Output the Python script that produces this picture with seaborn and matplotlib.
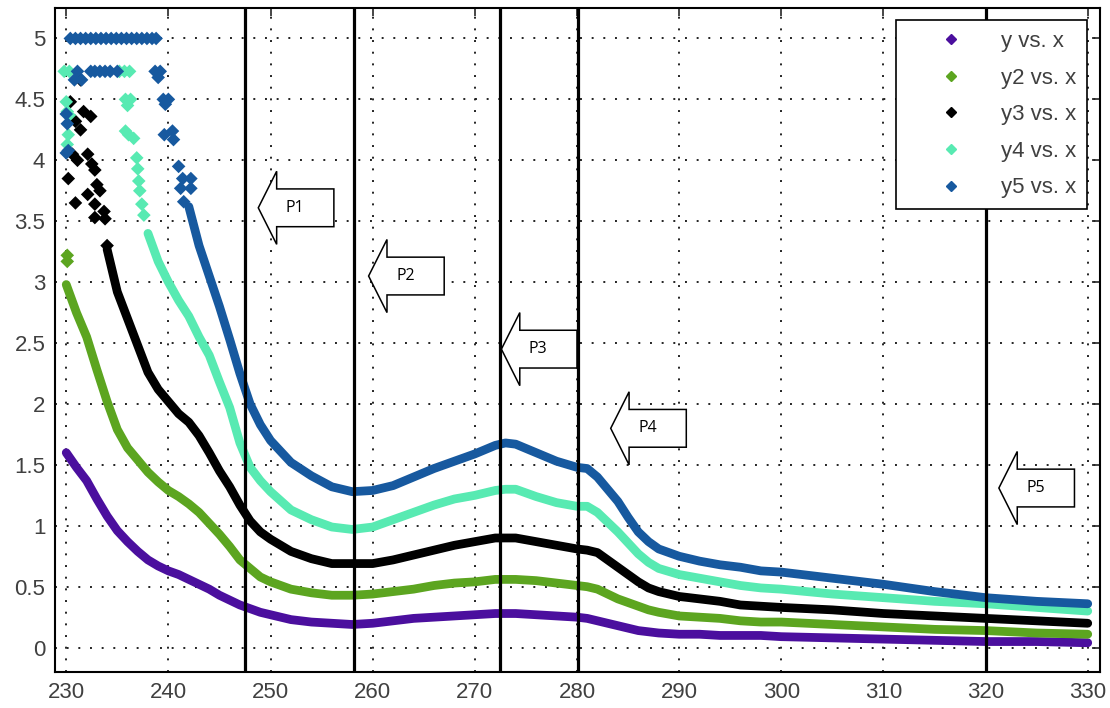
import numpy as np
import pandas as pd
import seaborn as sns
import matplotlib
matplotlib.use('Agg')
import matplotlib.pyplot as plt
from matplotlib.lines import Line2D
from matplotlib.patches import Polygon

# ---- data ----
x = [230, 231, 232, 233, 234, 235, 236, 237, 238, 239, 240, 241, 242, 243, 244,
     245, 246, 247, 248, 249, 250, 252, 254, 256, 258, 260, 262, 264, 266, 268,
     270, 272, 273, 274, 276, 278, 280, 281, 282, 283, 284, 285, 286, 287, 288,
     290, 292, 294, 296, 298, 300, 305, 310, 315, 320, 325, 330]
nan = np.nan
y1 = [1.60, 1.48, 1.37, 1.22, 1.08, 0.96, 0.87, 0.79, 0.72, 0.67, 0.63, 0.60, 0.56, 0.52, 0.48,
      0.43, 0.39, 0.35, 0.32, 0.29, 0.27, 0.23, 0.21, 0.20, 0.19, 0.20, 0.22, 0.24, 0.25, 0.26,
      0.27, 0.28, 0.28, 0.28, 0.27, 0.26, 0.25, 0.24, 0.22, 0.20, 0.18, 0.16, 0.14, 0.13, 0.12,
      0.11, 0.11, 0.10, 0.10, 0.10, 0.09, 0.08, 0.07, 0.06, 0.05, 0.05, 0.04]
y2 = [2.98, 2.75, 2.55, 2.28, 2.02, 1.79, 1.64, 1.54, 1.44, 1.36, 1.29, 1.24, 1.18, 1.11, 1.02,
      0.93, 0.83, 0.72, 0.65, 0.58, 0.54, 0.48, 0.45, 0.43, 0.43, 0.44, 0.46, 0.48, 0.51, 0.53,
      0.54, 0.56, 0.56, 0.56, 0.55, 0.53, 0.51, 0.50, 0.48, 0.44, 0.40, 0.37, 0.34, 0.31, 0.29,
      0.26, 0.25, 0.24, 0.22, 0.21, 0.21, 0.19, 0.17, 0.15, 0.14, 0.12, 0.11]
y3 = [nan, nan, nan, nan, 3.27, 2.92, 2.70, 2.48, 2.26, 2.12, 2.02, 1.92, 1.85, 1.74, 1.60,
      1.45, 1.32, 1.17, 1.04, 0.95, 0.89, 0.79, 0.73, 0.69, 0.69, 0.69, 0.72, 0.76, 0.80, 0.84,
      0.87, 0.90, 0.90, 0.90, 0.87, 0.84, 0.81, 0.80, 0.78, 0.72, 0.66, 0.60, 0.54, 0.49, 0.46,
      0.42, 0.40, 0.38, 0.35, 0.34, 0.33, 0.31, 0.28, 0.26, 0.24, 0.22, 0.20]
y4 = [nan, nan, nan, nan, nan, nan, nan, nan, 3.40, 3.17, 3.00, 2.85, 2.72, 2.55, 2.40,
      2.18, 1.97, 1.68, 1.48, 1.37, 1.28, 1.13, 1.05, 0.99, 0.97, 0.99, 1.05, 1.11, 1.17, 1.22,
      1.25, 1.29, 1.30, 1.30, 1.24, 1.19, 1.16, 1.16, 1.11, 1.03, 0.95, 0.86, 0.77, 0.70, 0.65,
      0.60, 0.57, 0.54, 0.51, 0.49, 0.48, 0.44, 0.41, 0.38, 0.36, 0.33, 0.30]
y5 = [nan, nan, nan, nan, nan, nan, nan, nan, nan, nan, nan, nan, 3.62, 3.30, 3.05,
      2.80, 2.53, 2.25, 2.00, 1.83, 1.70, 1.52, 1.41, 1.32, 1.28, 1.29, 1.33, 1.40, 1.47, 1.53,
      1.59, 1.66, 1.68, 1.67, 1.60, 1.53, 1.48, 1.47, 1.40, 1.30, 1.20, 1.07, 0.95, 0.87, 0.81,
      0.75, 0.71, 0.68, 0.66, 0.63, 0.62, 0.57, 0.52, 0.46, 0.41, 0.38, 0.36]

# noisy / saturated points at the short-wavelength end
sat2_x = [230.1, 230.1]
sat2_y = [3.22, 3.17]
sat3_x = [230.4, 231.7, 232.4, 230.9, 231.4, 230.6, 231.1, 232.1, 232.5, 232.8, 230.2,
          233.0, 233.3, 232.1, 230.9, 232.8, 233.7, 232.8, 233.8, 231.4, 234.0]
sat3_y = [4.48, 4.40, 4.36, 4.32, 4.25, 4.05, 4.00, 4.05, 3.97, 3.92, 3.85,
          3.80, 3.75, 3.72, 3.65, 3.64, 3.58, 3.53, 3.52, 4.66, 3.30]
sat4_x = [229.8, 230.3, 235.2, 235.7, 236.2, 235.8, 236.3, 236.0, 236.1, 236.6, 235.8,
          230.1, 230.3, 230.2, 230.1, 230.0, 236.9, 237.0, 237.1, 237.2, 237.4, 237.6]
sat4_y = [4.73, 4.73, 4.73, 4.73, 4.73, 4.50, 4.50, 4.45, 4.21, 4.18, 4.24,
          4.40, 4.37, 4.21, 4.13, 4.48, 4.02, 3.93, 3.83, 3.75, 3.64, 3.55]
sat5_x = [230.4, 230.9, 231.4, 231.9, 232.4, 232.9, 233.4, 233.9, 234.4, 234.9, 235.4,
          235.9, 236.4, 236.9, 237.4, 237.9, 238.4, 238.8,
          231.1, 232.4, 232.8, 233.3, 233.8, 234.3, 235.0, 230.8, 231.5,
          238.7, 239.2, 239.0, 239.5, 240.0, 239.7, 239.6, 240.4, 240.5,
          230.0, 230.1, 230.2, 230.0,
          241.0, 241.4, 242.2, 241.2, 242.2, 241.5]
sat5_y = [5.00, 5.00, 5.00, 5.00, 5.00, 5.00, 5.00, 5.00, 5.00, 5.00, 5.00,
          5.00, 5.00, 5.00, 5.00, 5.00, 5.00, 5.00,
          4.73, 4.73, 4.73, 4.73, 4.73, 4.73, 4.73, 4.66, 4.66,
          4.73, 4.73, 4.68, 4.50, 4.50, 4.46, 4.21, 4.24, 4.17,
          4.38, 4.30, 4.08, 4.06,
          3.95, 3.85, 3.85, 3.77, 3.77, 3.66]

names = ['y', 'y2', 'y3', 'y4', 'y5']
labels = ['y vs. x', 'y2 vs. x', 'y3 vs. x', 'y4 vs. x', 'y5 vs. x']
colors = ['#4b0f9e', '#5ca520', '#000000', '#58eab2', '#17599f']

# marked wavelengths and arrow labels
p_labels = ['P1', 'P2', 'P3', 'P4', 'P5']
p_lines = [247.5, 258.2, 272.5, 280.1, 320.0]
arrow_x = [248.8, 259.6, 272.6, 283.3, 321.3]
arrow_y = [3.61, 3.05, 2.45, 1.80, 1.31]

# ---- build long tables ----
curves = pd.DataFrame({'x': x, 'y': y1, 'y2': y2, 'y3': y3, 'y4': y4, 'y5': y5})
curves = curves.melt(id_vars='x', var_name='series', value_name='value').dropna()

sat = pd.concat([
    pd.DataFrame({'x': sat2_x, 'value': sat2_y, 'series': 'y2'}),
    pd.DataFrame({'x': sat3_x, 'value': sat3_y, 'series': 'y3'}),
    pd.DataFrame({'x': sat4_x, 'value': sat4_y, 'series': 'y4'}),
    pd.DataFrame({'x': sat5_x, 'value': sat5_y, 'series': 'y5'}),
])

palette = dict(zip(names, colors))

sns.set_style('white')
plt.rcParams['font.family'] = ['Liberation Sans', 'DejaVu Sans']

fig = plt.figure(figsize=(11.1, 7.08), dpi=100)
ax = fig.add_axes([55 / 1110, 36 / 708, 1045 / 1110, 664 / 708])

sns.lineplot(data=curves, x='x', y='value', hue='series', palette=palette,
             hue_order=names, linewidth=6.3, estimator=None, legend=False, ax=ax, zorder=3)
sns.scatterplot(data=sat, x='x', y='value', hue='series', palette=palette,
                marker='D', s=48, linewidth=0, legend=False, ax=ax, zorder=3)

# vertical marker lines
for px in p_lines:
    ax.axvline(px, color='black', linewidth=2.3, zorder=5)

# block arrows pointing left
arrow_len, head_len = 7.4, 1.8
head_h, body_h = 0.30, 0.155
for lab, tx, ty in zip(p_labels, arrow_x, arrow_y):
    pts = [(tx, ty), (tx + head_len, ty + head_h), (tx + head_len, ty + body_h),
           (tx + arrow_len, ty + body_h), (tx + arrow_len, ty - body_h),
           (tx + head_len, ty - body_h), (tx + head_len, ty - head_h)]
    ax.add_patch(Polygon(pts, closed=True, facecolor='white', edgecolor='black',
                         linewidth=1.1, zorder=4))
    ax.text(tx + 3.6, ty, lab, ha='center', va='center', fontsize=11.5,
            family=['Open Sans', 'DejaVu Sans'], color='black', zorder=6)

ax.set_xlim(228.9, 331.2)
ax.set_ylim(-0.2, 5.25)
ax.set_xticks(np.arange(230, 331, 10))
ax.set_yticks([0, 0.5, 1, 1.5, 2, 2.5, 3, 3.5, 4, 4.5, 5])
ax.set_yticklabels(['0', '0.5', '1', '1.5', '2', '2.5', '3', '3.5', '4', '4.5', '5'])
ax.set_xlabel('')
ax.set_ylabel('')
ax.grid(True, color='#222222', linestyle=(0, (1, 5)), linewidth=1.4)
ax.set_axisbelow(True)
ax.tick_params(direction='in', length=6, width=1.2, top=True, right=True,
               labelsize=16, labelcolor='#404040', pad=7)
for sp in ax.spines.values():
    sp.set_color('black')
    sp.set_linewidth(1.5)

handles = [Line2D([], [], linestyle='none', marker='D', markersize=5,
                  markerfacecolor=c, markeredgecolor=c) for c in colors]
leg = ax.legend(handles, labels, loc='upper right', bbox_to_anchor=(0.9876, 0.982),
                borderaxespad=0, fontsize=16, frameon=True, fancybox=False,
                edgecolor='black', framealpha=1, borderpad=0.5, handlelength=3.9,
                handletextpad=0.3, labelspacing=0.7)
leg.get_frame().set_linewidth(1.2)
for t in leg.get_texts():
    t.set_color('#404040')
leg.set_zorder(10)

fig.savefig('out.png', dpi=100)
